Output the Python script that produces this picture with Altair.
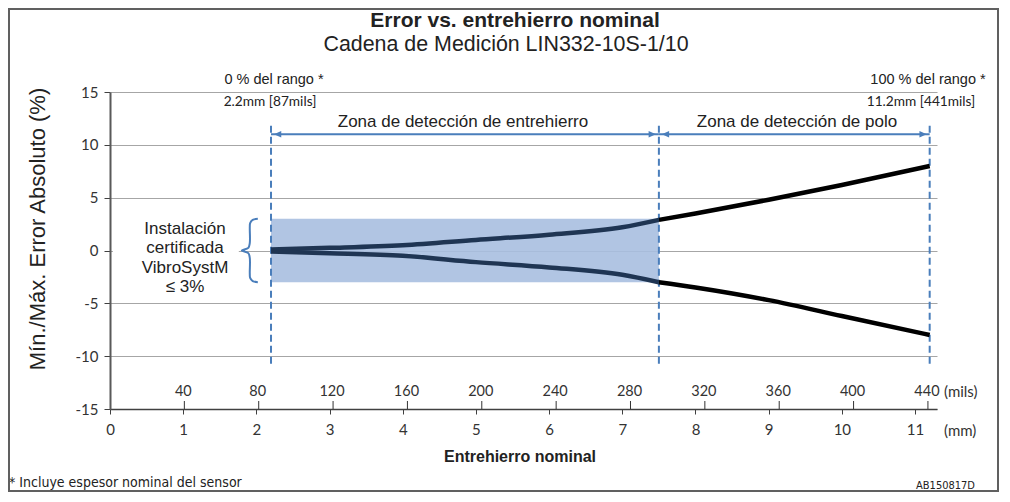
import altair as alt
import pandas as pd

# ---------------- data ----------------
mm_ticks = list(range(12))
mils_ticks = [40, 80, 120, 160, 200, 240, 280, 320, 360, 400, 440]
y_ticks = [-15, -10, -5, 0, 5, 10, 15]

gap_mm = [2.2, 3, 4, 5, 6, 7, 7.5, 8, 9, 10, 11.2]
err_max = [0.1, 0.25, 0.5, 1.0, 1.5, 2.2, 2.9, 3.5, 4.8, 6.2, 8.0]
err_min = [-0.1, -0.25, -0.5, -1.1, -1.6, -2.3, -3.0, -3.5, -4.7, -6.2, -8.0]

range_marks_mm = [2.2, 7.5, 11.2]
cert_zone_mm = [2.2, 7.5]
cert_band = [-3, 3]
zones = ["Zona de detección de entrehierro", "Zona de detección de polo"]
zone_start = [2.2, 7.5]
zone_end = [7.5, 11.2]

# brace outline (mm, %)
brace_x = [2.02, 1.95, 1.915, 1.91, 1.91, 1.89, 1.80, 1.89, 1.91, 1.91, 1.915, 1.95, 2.02]
brace_y = [3.0, 2.9, 2.6, 2.2, 0.7, 0.25, 0.0, -0.25, -0.7, -2.2, -2.6, -2.9, -3.0]

# ---------------- styling ----------------
W, H = 827, 317
XMAX = 11.3
ARIAL = "Liberation Sans"
NARROW = "'Liberation Sans Narrow', 'DejaVu Sans Condensed', 'Liberation Sans', sans-serif"
CAL = "Lato"
BLUE = "#4a7ebb"
TXT = "#222222"
LBL = "#333333"

xs = alt.Scale(domain=[0, XMAX], nice=False, zero=False)
ys = alt.Scale(domain=[-15, 15], nice=False)

x_axis = alt.Axis(values=mm_ticks, title=None, grid=False, labelExpr="'' + datum.value",
                  domainColor="#404040", domainWidth=1.5, tickColor="#404040",
                  tickSize=5, labelFont=CAL, labelFontSize=15, labelColor=LBL,
                  labelPadding=8, labelFlush=False)
y_axis = alt.Axis(values=y_ticks, title=None, grid=True, gridColor="#a6a6a6",
                  gridWidth=1, domainColor="#595959", domainWidth=2,
                  tickColor="#404040", tickSize=6, labelFont=CAL, labelFontSize=15,
                  labelColor=LBL, labelPadding=6, labelFlush=False,
                  labelExpr="'' + datum.value")


def X(field):
    return alt.X(field, scale=xs, axis=x_axis)


def Y(field):
    return alt.Y(field, scale=ys, axis=y_axis)


rows = []
for x, a, b in zip(gap_mm, err_max, err_min):
    for ser, v in (("max", a), ("min", b)):
        segs = []
        if x <= 7.5:
            segs.append("zone")
        if x >= 7.5:
            segs.append("pole")
        for s in segs:
            rows.append({"x": x, "y": v, "series": ser, "seg": s})
curve = pd.DataFrame(rows)

# shaded certified band
band = alt.Chart(pd.DataFrame({"x1": [cert_zone_mm[0]], "x2": [cert_zone_mm[1]],
                               "y1": [cert_band[0]], "y2": [cert_band[1]]})).mark_rect(
    color="#a9bfe0", opacity=0.9).encode(
    x=X("x1:Q"), x2="x2:Q", y=Y("y1:Q"), y2="y2:Q")

# white patch behind the label (hides the 0 grid line there)
patch = alt.Chart(pd.DataFrame({"x1": [0.04], "x2": [1.76], "y1": [-0.6], "y2": [0.6]})).mark_rect(
    color="white").encode(x=X("x1:Q"), x2="x2:Q", y=Y("y1:Q"), y2="y2:Q")

zone_line = alt.Chart(curve[curve.seg == "zone"]).mark_line(
    color="#1f3553", strokeWidth=4.5, strokeCap="butt", interpolate="monotone").encode(
    x=X("x:Q"), y=Y("y:Q"), detail="series:N")
pole_line = alt.Chart(curve[curve.seg == "pole"]).mark_line(
    color="#000000", strokeWidth=4.5, strokeCap="butt", interpolate="monotone").encode(
    x=X("x:Q"), y=Y("y:Q"), detail="series:N")

dashes = alt.Chart(pd.DataFrame({"x": range_marks_mm, "y1": 11.8, "y2": -11.0})).mark_rule(
    color=BLUE, strokeWidth=2, strokeDash=[7, 4]).encode(
    x=X("x:Q"), y=Y("y1:Q"), y2="y2:Q")

zdf = pd.DataFrame({"zone": zones, "x1": zone_start, "x2": zone_end, "y": 11.0})
arrows = alt.Chart(zdf).mark_rule(color=BLUE, strokeWidth=2).encode(
    x=X("x1:Q"), x2="x2:Q", y=Y("y:Q"))
heads_l = alt.Chart(zdf).mark_point(
    shape="M0,0L1,-0.45L1,0.45Z", size=210, filled=True, opacity=1, color=BLUE,
    xOffset=3).encode(x=X("x1:Q"), y=Y("y:Q"))
heads_r = alt.Chart(zdf).mark_point(
    shape="M0,0L-1,-0.45L-1,0.45Z", size=210, filled=True, opacity=1, color=BLUE,
    xOffset=-3).encode(x=X("x2:Q"), y=Y("y:Q"))

bdf = pd.DataFrame({"x": brace_x, "y": brace_y, "o": list(range(len(brace_x)))})
brace = alt.Chart(bdf).mark_line(color=BLUE, strokeWidth=2,
                                 interpolate="catmull-rom").encode(
    x=X("x:Q"), y=Y("y:Q"), order="o:Q")

# secondary (mils) scale drawn along the bottom axis
mdf = pd.DataFrame({"mils": mils_ticks})
mils_base = alt.Chart(mdf).transform_calculate(mm="datum.mils * 0.0254")
mils_ticks_mark = mils_base.mark_rule(color="#333333", strokeWidth=1).encode(
    x=X("mm:Q"), y=alt.value(H - 8), y2=alt.value(H))
mils_labels = mils_base.mark_text(font=CAL, fontSize=14.5, color=LBL,
                                  baseline="bottom", dy=-10, dx=-1).encode(
    x=X("mm:Q"), y=alt.value(H), text=alt.Text("mils:Q", format="d"))


def txt(text, x, y, size, font=ARIAL, weight="normal", align="center",
        color=TXT, angle=0, line_height=None):
    kw = dict(text=text, fontSize=size, font=font, fontWeight=weight,
              align=align, baseline="middle", color=color)
    if angle:
        kw["angle"] = angle
    if line_height:
        kw["lineBreak"] = "\n"
        kw["lineHeight"] = line_height
    return alt.Chart(pd.DataFrame({"a": [0]})).mark_text(**kw).encode(
        x=alt.value(x), y=alt.value(y))


texts = [
    txt("Error vs. entrehierro nominal", 405, -71, 21, weight="bold"),
    txt("Cadena de Medición LIN332-10S-1/10", 396, -47, 21.4),
    txt("0 % del rango *", 164, -12, 14.5),
    txt("2.2mm [87mils]", 160, 10, 13.7, font=CAL),
    txt("100 % del rango *", 818, -12, 14.5),
    txt("11.2mm [441mils]", 811, 10, 13.7, font=CAL),
    txt(zones[0], 353, 30, 17),
    txt(zones[1], 687, 30, 17),
    txt("Instalación\ncertificada\nVibroSystM\n≤ 3%", 75, 137, 17, line_height=19.4),
    txt("Mín./Máx. Error Absoluto (%)", -72, 137, 22, angle=270),
    txt("(mils)", 834, 300, 15, font=CAL, align="left", color=LBL),
    txt("(mm)", 834, 339, 15, font=CAL, align="left", color=LBL),
    txt("Entrehierro nominal", 410, 365, 16, weight="bold"),
    txt("* Incluye espesor nominal del sensor", -101, 391, 14, font=NARROW, align="left"),
    txt("AB150817D", 865, 394, 11, font=NARROW, align="right"),
]

frame = alt.Chart(pd.DataFrame({"a": [0]})).mark_rect(
    filled=False, stroke="#606060", strokeWidth=2).encode(
    x=alt.value(-101), x2=alt.value(888), y=alt.value(-83), y2=alt.value(399))

chart = alt.layer(band, patch, dashes, arrows, heads_l, heads_r, brace,
                  zone_line, pole_line, mils_ticks_mark, mils_labels,
                  *texts, frame).properties(
    width=W, height=H,
    padding={"left": 102, "top": 84, "right": 63, "bottom": 84},
    autosize=alt.AutoSizeParams(type="none"),
).configure_view(strokeWidth=0)

chart.save("out.html", embed_options={"renderer": "svg", "actions": False})
